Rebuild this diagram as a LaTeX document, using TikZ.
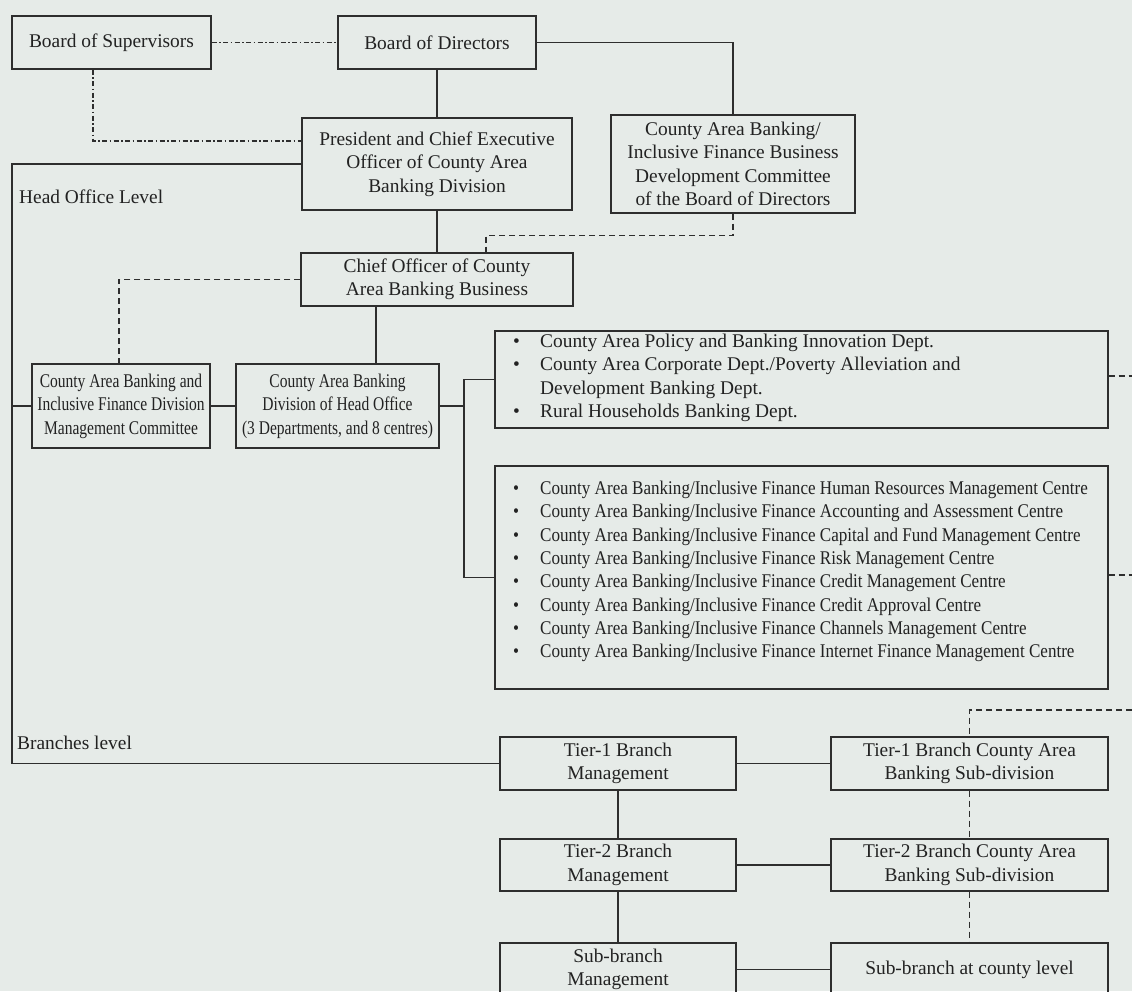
\documentclass[tikz,border=0pt]{standalone}
\usepackage{fontspec}
\setmainfont{Liberation Serif}
\newfontfamily\narrowA[FakeStretch=0.8]{Liberation Serif}
\newfontfamily\narrowB[FakeStretch=0.88]{Liberation Serif}
\definecolor{bgc}{HTML}{E6EBE8}
\definecolor{lnc}{HTML}{2E2E2E}
\definecolor{txc}{HTML}{222222}
\newcommand\blt{\makebox[27pt][l]{•}}
\tikzset{
  box/.style={draw=lnc, line width=1.4pt, inner sep=0pt, align=center, text=txc,
    font=\fontsize{19.4}{23.5}\selectfont},
  conn/.style={draw=lnc, line width=1.4pt},
  dashconn/.style={conn, dash pattern=on 6pt off 4pt},
  dotdash/.style={conn, dash pattern=on 5pt off 2.5pt on 1.5pt off 2.5pt},
  lbl/.style={inner sep=0pt, text=txc, font=\fontsize{19.4}{23.5}\selectfont},
}
\begin{document}
\begin{tikzpicture}[x=1pt,y=-1pt]
\useasboundingbox (0,0) rectangle (1132,991);
\clip (0,0) rectangle (1132,991);
\fill[bgc] (0,0) rectangle (1132,991);

% boxes
\node[box, minimum width=199pt, minimum height=53pt] (bos) at (111.5,42.5) {Board of Supervisors};
\node[box, minimum width=198pt, minimum height=53pt] (bod) at (437,42.5) {Board of Directors};
\node[box, minimum width=244pt, minimum height=98pt] (comm) at (733,164) {County Area Banking/\\Inclusive Finance Business\\Development Committee\\of the Board of Directors};
\node[box, minimum width=270pt, minimum height=92pt] (pres) at (437,164) {President and Chief Executive\\Officer of County Area\\Banking Division};
\node[box, minimum width=272pt, minimum height=53pt] (chief) at (437,279.5) {Chief Officer of County\\Area Banking Business};
\node[box, minimum width=178pt, minimum height=84pt, font=\narrowA\fontsize{19.4}{23.5}\selectfont] (mgmtc) at (121,406) {County Area Banking and\\Inclusive Finance Division\\Management Committee};
\node[box, minimum width=203pt, minimum height=84pt, font=\narrowA\fontsize{19.4}{23.5}\selectfont] (div) at (337.5,406) {County Area Banking\\Division of Head Office\\(3 Departments, and 8 centres)};
\node[box, minimum width=613pt, minimum height=97pt] (dept) at (801.5,379.5) {};
\node[box, minimum width=613pt, minimum height=223pt] (cent) at (801.5,577.5) {};
\node[box, minimum width=236pt, minimum height=53pt] (t1m) at (618,763.5) {Tier-1 Branch\\Management};
\node[box, minimum width=277pt, minimum height=53pt] (t1c) at (969.5,763.5) {Tier-1 Branch County Area\\Banking Sub-division};
\node[box, minimum width=236pt, minimum height=52pt] (t2m) at (618,865) {Tier-2 Branch\\Management};
\node[box, minimum width=277pt, minimum height=52pt] (t2c) at (969.5,865) {Tier-2 Branch County Area\\Banking Sub-division};
\node[box, minimum width=236pt, minimum height=53pt] (sbm) at (618,969.5) {Sub-branch\\Management};
\node[box, minimum width=277pt, minimum height=53pt] (sbc) at (969.5,969.5) {Sub-branch at county level};

% lists
\node[lbl, anchor=west] (deptlist) at (513,378) {\begin{tabular}{@{}l@{}}
\blt County Area Policy and Banking Innovation Dept.\\
\blt County Area Corporate Dept./Poverty Alleviation and\\
\hspace*{27pt}Development Banking Dept.\\
\blt Rural Households Banking Dept.
\end{tabular}};
\node[lbl, anchor=west, font=\narrowB\fontsize{19.4}{23.3}\selectfont] (centlist) at (513,571.5) {\begin{tabular}{@{}l@{}}
\blt County Area Banking/Inclusive Finance Human Resources Management Centre\\
\blt County Area Banking/Inclusive Finance Accounting and Assessment Centre\\
\blt County Area Banking/Inclusive Finance Capital and Fund Management Centre\\
\blt County Area Banking/Inclusive Finance Risk Management Centre\\
\blt County Area Banking/Inclusive Finance Credit Management Centre\\
\blt County Area Banking/Inclusive Finance Credit Approval Centre\\
\blt County Area Banking/Inclusive Finance Channels Management Centre\\
\blt County Area Banking/Inclusive Finance Internet Finance Management Centre
\end{tabular}};

% labels
\node[lbl, anchor=base west] (hol) at (19,203) {Head Office Level};
\node[lbl, anchor=base west] (brl) at (17,749) {Branches level};

% coordinates
\coordinate (hcorner) at (12,763.5);
\coordinate (fork) at (464,406);
\coordinate (e1) at (1132,376);
\coordinate (e2) at (1132,575);
\coordinate (e3) at (1132,710);

% connectors
\draw[dotdash] (bos.east) -- (bod.west);
\draw[dotdash] ([xshift=-18.5pt]bos.south) |- ([yshift=23pt]pres.west);
\draw[conn] (bod.east) -| (comm.north);
\draw[conn] (bod.south) -- (pres.north);
\draw[conn] (pres.west) -| (hcorner) -- (t1m.west);
\draw[conn] (mgmtc.west) -- (mgmtc.west -| hcorner);
\draw[conn] (pres.south) -- (chief.north);
\draw[dashconn] (comm.south) -- ++(0,22) -| ([xshift=49pt]chief.north);
\draw[dashconn] (chief.west) -| ([xshift=-2pt]mgmtc.north);
\draw[conn] ([xshift=-61pt]chief.south) -- ([xshift=-61pt]chief.south |- div.north);
\draw[conn] (mgmtc.east) -- (div.west);
\draw[conn] (div.east) -- (fork);
\draw[conn] (dept.west) -| (fork) |- (cent.west);
\draw[dashconn] (dept.east |- e1) -- (e1);
\draw[dashconn] (cent.east |- e2) -- (e2);
\draw[dashconn] (e3) -| (t1c.north);
\draw[conn] (t1m.east) -- (t1c.west);
\draw[conn] (t2m.east) -- (t2c.west);
\draw[conn] (sbm.east) -- (sbc.west);
\draw[conn] (t1m.south) -- (t2m.north);
\draw[conn] (t2m.south) -- (sbm.north);
\draw[dashconn] (t1c.south) -- (t2c.north);
\draw[dashconn] (t2c.south) -- (sbc.north);
\end{tikzpicture}
\end{document}
